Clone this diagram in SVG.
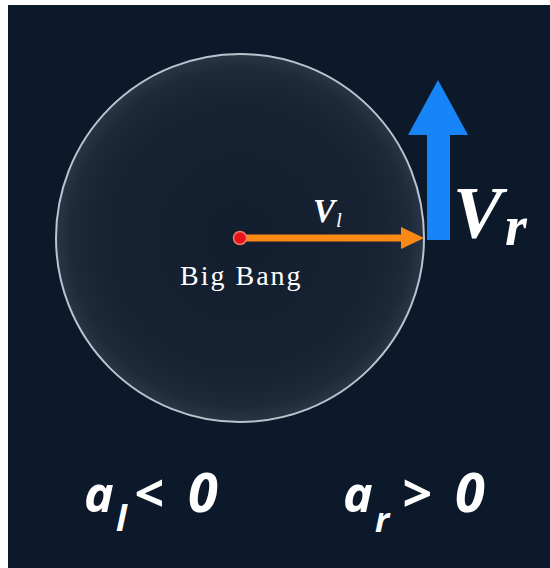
<svg xmlns="http://www.w3.org/2000/svg" width="550" height="568" viewBox="0 0 550 568">
<defs>
<radialGradient id="g" cx="0.5" cy="0.5" r="0.5">
<stop offset="0" stop-color="#121e2e"/>
<stop offset="0.75" stop-color="#172333"/>
<stop offset="0.92" stop-color="#1e2a3a"/>
<stop offset="1" stop-color="#2a3646"/>
</radialGradient>
<style>
.sym{font-family:"Open Sans","Noto Sans","DejaVu Sans",sans-serif;font-weight:700;font-style:italic;fill:#ffffff}
.ser{font-family:"Liberation Serif","DejaVu Serif",serif;fill:#ffffff}
</style>
</defs>
<rect x="0" y="0" width="550" height="568" fill="#ffffff"/>
<rect x="8" y="5" width="542" height="563" fill="#0b192a"/>
<g id="universe">
<circle cx="240" cy="238" r="184" fill="url(#g)" stroke="#b9c4cf" stroke-width="2"/>
</g>
<g id="connectors">
<line x1="240" y1="238" x2="404" y2="238" stroke="#fb8a14" stroke-width="7"/>
<polygon points="401,227 424,238 401,249" fill="#fb8a14"/>
<polygon points="427,240 450,240 450,135 468,135 438,80 408,135 427,135" fill="#1784f8"/>
</g>
<g id="bigbang">
<circle cx="240" cy="238" r="6.5" fill="#e8141a" stroke="#f07a6a" stroke-width="1.5"/>
<text class="ser" x="180" y="285" font-size="28" letter-spacing="2">Big Bang</text>
</g>
<g id="vl">
<text class="ser" x="313" y="222" font-size="33" font-weight="700" font-style="italic">V</text>
<text class="ser" x="336" y="227" font-size="21" font-style="italic">l</text>
</g>
<g id="vr">
<text class="ser" x="453" y="238" font-size="74" font-weight="700" font-style="italic">V</text>
<text class="ser" x="505" y="245" font-size="56" font-weight="700" font-style="italic">r</text>
</g>
<g id="al">
<text class="sym" x="84" y="512" font-size="50">a</text>
<text class="sym" x="116" y="531" font-size="36">l</text>
<text class="sym" x="134" y="512" font-size="52">&lt;</text>
<text class="sym" x="188" y="512" font-size="54">0</text>
</g>
<g id="ar">
<text class="sym" x="343" y="512" font-size="50">a</text>
<text class="sym" x="375" y="532" font-size="34">r</text>
<text class="sym" x="402" y="512" font-size="52">&gt;</text>
<text class="sym" x="455" y="512" font-size="54">0</text>
</g>
</svg>
